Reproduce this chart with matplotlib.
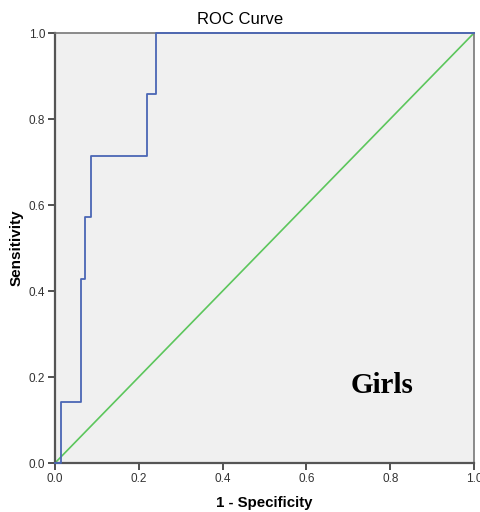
import numpy as np
import matplotlib.pyplot as plt

# ROC points (steps of 1/7 in sensitivity)
fpr = [0.0, 0.0143, 0.0143, 0.062, 0.062, 0.072, 0.072, 0.086, 0.086, 0.220, 0.220, 0.242, 0.242, 1.0]
tpr = [0.0, 0.0, 0.143, 0.143, 0.429, 0.429, 0.571, 0.571, 0.714, 0.714, 0.857, 0.857, 1.0, 1.0]
ref_line = [0.0, 1.0]
ticks = [0.0, 0.2, 0.4, 0.6, 0.8, 1.0]
tick_labels = ['0.0', '0.2', '0.4', '0.6', '0.8', '1.0']

plt.rcParams['font.family'] = ['Liberation Sans', 'DejaVu Sans']

fig = plt.figure(figsize=(4.81, 5.12), dpi=100)
ax = fig.add_axes([55/481, 49/512, 419/481, 430/512])
ax.set_facecolor('#f0f0f0')

ax.plot(ref_line, ref_line, color='#5cc65c', lw=1.2, clip_on=False, zorder=2)
ax.plot(fpr, tpr, color='#4a66b5', lw=1.3, clip_on=False, zorder=3)

ax.set_xlim(0, 1)
ax.set_ylim(0, 1)
ax.set_xticks(ticks)
ax.set_xticklabels(tick_labels)
ax.set_yticks(ticks)
ax.set_yticklabels(tick_labels)
ax.tick_params(direction='out', length=5, width=1.2, color='#333333',
               labelsize=8.5, labelcolor='#333333', pad=2)

for side in ['left', 'bottom']:
    ax.spines[side].set_color('#555555')
    ax.spines[side].set_linewidth(1.6)
for side in ['top', 'right']:
    ax.spines[side].set_color('#777777')
    ax.spines[side].set_linewidth(1.2)

ax.set_xlabel('1 - Specificity', fontsize=10.8, fontweight='bold', labelpad=8)
ax.set_ylabel('Sensitivity', fontsize=11, fontweight='bold', labelpad=4)
fig.text(0.5, 1 - 19/512, 'ROC Curve', ha='center', va='center', fontsize=12)

ax.text(0.78, 0.18, 'Girls', ha='center', va='center', fontsize=21,
        fontweight='bold', family='Liberation Serif')

fig.savefig('out.png', dpi=100)
